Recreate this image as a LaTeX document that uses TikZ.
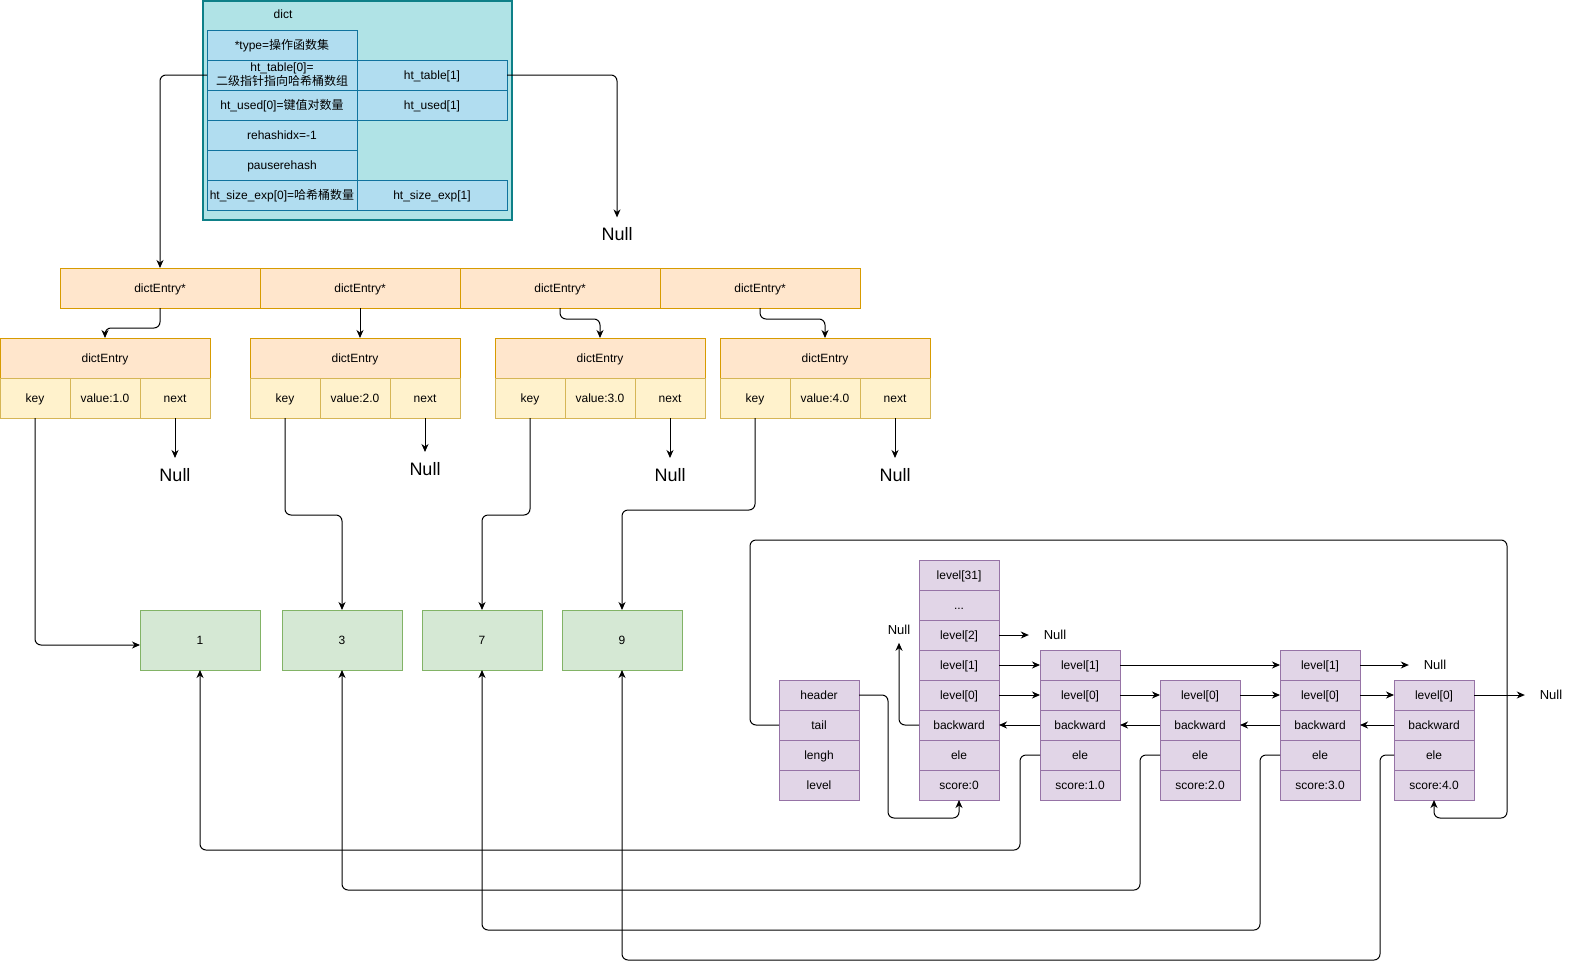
\documentclass[tikz,border=0pt]{standalone}
\usepackage{fontspec}
\setmainfont{Liberation Sans}
\newfontfamily\cjk{Noto Sans CJK SC}
\usepackage{tikz}
\usetikzlibrary{arrows.meta,positioning}
\definecolor{Dict}{HTML}{B0E3E6}
\definecolor{DictLine}{HTML}{0E8088}
\definecolor{Cell}{HTML}{B1DDF0}
\definecolor{CellLine}{HTML}{10739E}
\definecolor{Ptr}{HTML}{FFE6CC}
\definecolor{PtrLine}{HTML}{D79B00}
\definecolor{Field}{HTML}{FFF2CC}
\definecolor{FieldLine}{HTML}{D6B656}
\definecolor{Obj}{HTML}{D5E8D4}
\definecolor{ObjLine}{HTML}{82B366}
\definecolor{Skip}{HTML}{E1D5E7}
\definecolor{SkipLine}{HTML}{9673A6}

\begin{document}
\begin{tikzpicture}[x=1pt,y=-1pt,font=\fontsize{12}{14}\selectfont,line width=1pt,
  >={Stealth[length=8pt,width=7pt,inset=2.5pt]},
  every node/.style={align=center,inner sep=0pt,outer sep=0pt},
  box/.style={text height=10pt,text depth=2pt},
  cell/.style={box,draw=CellLine,fill=Cell,minimum width=150pt,minimum height=30pt},
  ptr/.style={box,draw=PtrLine,fill=Ptr,minimum width=200pt,minimum height=40pt},
  entry/.style={box,draw=PtrLine,fill=Ptr,minimum width=210pt,minimum height=40pt},
  field/.style={box,draw=FieldLine,fill=Field,minimum width=70pt,minimum height=40pt},
  obj/.style={box,draw=ObjLine,fill=Obj,minimum width=120pt,minimum height=60pt},
  skip/.style={box,draw=SkipLine,fill=Skip,minimum width=80pt,minimum height=30pt},
  null/.style={font=\fontsize{18}{20}\selectfont,outer ysep=10pt},
  snull/.style={font=\fontsize{13}{15}\selectfont,outer xsep=15pt,outer ysep=8pt},
  link/.style={->,rounded corners=6pt}]
  \useasboundingbox (0,0) rectangle (1571,969);

  % dict
  \node[draw=DictLine,line width=2pt,fill=Dict,minimum width=309pt,minimum height=219pt] (dict) at (357,110) {};
  \node[box] (dictlbl) at (283,15) {dict};
  \node[cell] (type) at (282,45) {*type={\cjk 操作函数集}};
  \node[cell,below=0pt of type,text height=,text depth=] (tab0) {ht\_table[0]=\\{\cjk 二级指针指向哈希桶数组}};
  \node[cell,below=0pt of tab0] (used0) {ht\_used[0]={\cjk 键值对数量}};
  \node[cell,below=0pt of used0] (rehash) {rehashidx=-1};
  \node[cell,below=0pt of rehash] (pause) {pauserehash};
  \node[cell,below=0pt of pause] (exp0) {ht\_size\_exp[0]={\cjk 哈希桶数量}};
  \node[cell,right=0pt of tab0] (tab1) {ht\_table[1]};
  \node[cell,right=0pt of used0] (used1) {ht\_used[1]};
  \node[cell,right=0pt of exp0] (exp1) {ht\_size\_exp[1]};
  \node[null] (null0) at (617,234) {Null};
  \draw[link] (tab1.east) -| (null0.north);

  % buckets and entries
  \foreach \i in {1,...,4}
    \node[ptr] (p\i) at (200*\i-40,288) {dictEntry*};
  \draw[link] (tab0.west) -| (p1.north);
  \foreach \i/\x/\v/\d in {1/105/1.0/40,2/355/2.0/34,3/600/3.0/40,4/825/4.0/40} {
    \node[entry] (e\i) at (\x,358) {dictEntry};
    \node[field,anchor=north west] (k\i) at (e\i.south west) {key};
    \node[field,right=0pt of k\i] (v\i) {value:\v};
    \node[field,right=0pt of v\i] (nx\i) {next};
    \node[null,below=\d pt of nx\i] (nn\i) {Null};
    \draw[link] (nx\i.south) -- (nn\i.north);
  }
  \draw[link] (p1.south) -- ++(0,20) -| (e1.north);
  \draw[link] (p2.south) -- (p2.south |- e2.north);
  \draw[link] (p3.south) -- ++(0,11) -| (e3.north);
  \draw[link] (p4.south) -- ++(0,11) -| (e4.north);

  % values
  \foreach \i/\x/\t in {1/200/1,2/342/3,3/482/7,4/622/9}
    \node[obj] (o\i) at (\x,640) {\t};
  \draw[link] (k1.south) |- ([yshift=-5pt]o1.west);
  \draw[link] (k2.south) -- ++(0,97) -| (o2.north);
  \draw[link] (k3.south) -- ++(0,97) -| (o3.north);
  \draw[link] (k4.south) -- ++(0,92) -| (o4.north);

  % skiplist
  \node[skip] (zhead) at (819,695) {header};
  \node[skip,below=0pt of zhead] (ztail) {tail};
  \node[skip,below=0pt of ztail] (zlen) {lengh};
  \node[skip,below=0pt of zlen] (zlevel) {level};

  \node[skip] (hl31) at (959,575) {level[31]};
  \node[skip,below=0pt of hl31] (hdots) {...};
  \node[skip,below=0pt of hdots] (hl2) {level[2]};
  \node[skip,below=0pt of hl2] (hl1) {level[1]};
  \node[skip,below=0pt of hl1] (hl0) {level[0]};
  \node[skip,below=0pt of hl0] (hb) {backward};
  \node[skip,below=0pt of hb] (he) {ele};
  \node[skip,below=0pt of he] (hs) {score:0};

  \node[skip] (s1l1) at (1080,665) {level[1]};
  \node[skip,below=0pt of s1l1] (s1l0) {level[0]};
  \node[skip] (s2l0) at (1200,695) {level[0]};
  \node[skip] (s3l1) at (1320,665) {level[1]};
  \node[skip,below=0pt of s3l1] (s3l0) {level[0]};
  \node[skip] (s4l0) at (1434,695) {level[0]};
  \foreach \i/\v in {1/1.0,2/2.0,3/3.0,4/4.0} {
    \node[skip,below=0pt of s\i l0] (s\i b) {backward};
    \node[skip,below=0pt of s\i b] (s\i e) {ele};
    \node[skip,below=0pt of s\i e] (s\i s) {score:\v};
  }

  \node[snull] (hnull) at (1055,635) {Null};
  \node[snull] (bnull) at (899,630) {Null};
  \node[snull] (s3null) at (1435,665) {Null};
  \node[snull] (s4null) at (1551,695) {Null};

  \draw[->] (hl2.east) -- (hnull.west);
  \draw[->] (hl1.east) -- (s1l1.west);
  \draw[->] (hl0.east) -- (s1l0.west);
  \draw[->] (s1l1.east) -- (s3l1.west);
  \draw[->] (s1l0.east) -- (s2l0.west);
  \draw[->] (s2l0.east) -- (s3l0.west);
  \draw[->] (s3l0.east) -- (s4l0.west);
  \draw[->] (s3l1.east) -- (s3null.west);
  \draw[->] (s4l0.east) -- (s4null.west);
  \draw[->] (s1b.west) -- (hb.east);
  \draw[->] (s2b.west) -- (s1b.east);
  \draw[->] (s3b.west) -- (s2b.east);
  \draw[->] (s4b.west) -- (s3b.east);
  \draw[link] (hb.west) -| (bnull.south);

  \draw[link] (zhead.east) -- ++(29,0) |- ([yshift=-18pt]hs.south) -- (hs.south);
  \coordinate (loop) at (1507,540);
  \draw[link] (ztail.west) -- ++(-29,0) |- (loop) |- ([yshift=-18pt]s4s.south) -- (s4s.south);

  % ele -> values
  \draw[link] (s1e.west) -- ++(-20,0) |- ([yshift=-180pt]o1.south) -- (o1.south);
  \draw[link] (s2e.west) -- ++(-20,0) |- ([yshift=-220pt]o2.south) -- (o2.south);
  \draw[link] (s3e.west) -- ++(-20,0) |- ([yshift=-260pt]o3.south) -- (o3.south);
  \draw[link] (s4e.west) -- ++(-14,0) |- ([yshift=-290pt]o4.south) -- (o4.south);
\end{tikzpicture}
\end{document}
